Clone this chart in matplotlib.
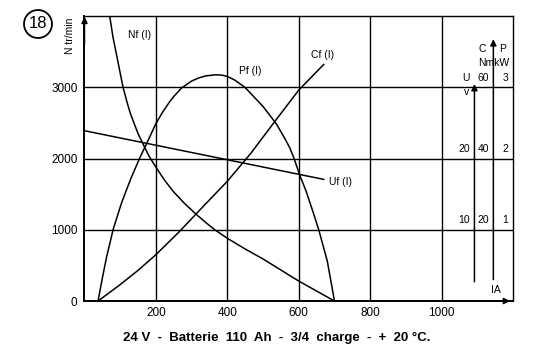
import numpy as np
import matplotlib
matplotlib.use("Agg")
from matplotlib import pyplot as plt
from matplotlib.patches import Ellipse

plt.rcParams['font.family'] = ['Liberation Sans', 'DejaVu Sans']

# ---- curves (I in A, N in tr/min) ----
nf_i = [71, 80, 90, 100, 108, 118, 128, 140, 150, 163, 180, 200, 225, 250, 280, 316, 340, 365, 400, 450, 500, 600, 650, 700]
nf_n = [3986, 3700, 3450, 3200, 3000, 2811, 2640, 2480, 2350, 2214, 2040, 1878, 1690, 1530, 1370, 1203, 1100, 1000, 880, 730, 590, 280, 140, 0]

pf_i = [38, 50, 62, 81, 104, 130, 155, 175, 200, 220, 239, 250, 272, 300, 320, 340, 368, 385, 400, 420, 449,
        470, 500, 520, 538, 560, 575, 587, 603, 620, 640, 656, 680, 700]
pf_n = [0, 320, 620, 1017, 1380, 1720, 2010, 2220, 2490, 2660, 2800, 2870, 2990, 3087, 3131, 3160, 3175, 3170, 3152, 3103, 3000,
        2890, 2730, 2600, 2480, 2290, 2150, 2000, 1762, 1550, 1250, 1000, 560, 0]

cf_i = [38, 100, 150, 200, 267, 333, 400, 467, 533, 600, 670]
cf_n = [0, 230, 430, 650, 980, 1330, 1680, 2080, 2520, 2960, 3320]

uf_i = [0, 670]
uf_n = [2390, 1707]

x_ticks = [200, 400, 600, 800, 1000]
y_ticks = [0, 1000, 2000, 3000]

# right hand scales (U in V, C in Nm, P in kW) at the N grid levels
u_lab = ['10', '20']
c_lab = ['20', '40', '60']
p_lab = ['1', '2', '3']

fig = plt.figure(figsize=(5.36, 3.62), dpi=100)
ax = fig.add_axes([0.1576, 0.1685, 0.7995, 0.7873])
ax.set_xlim(0, 1200)
ax.set_ylim(0, 4000)

ax.set_xticks(x_ticks)
ax.set_yticks(y_ticks)
ax.grid(True, color='black', lw=1.0)
ax.tick_params(length=0, labelsize=8.5)
ax.tick_params(axis='x', pad=4)
ax.tick_params(axis='y', pad=5)
for s in ['top', 'right']:
    ax.spines[s].set_linewidth(1.0)
for s in ['left', 'bottom']:
    ax.spines[s].set_linewidth(1.4)

lw = 1.1
ax.plot(nf_i, nf_n, color='black', lw=lw)
ax.plot(pf_i, pf_n, color='black', lw=lw)
ax.plot(cf_i, cf_n, color='black', lw=lw)
ax.plot(uf_i, uf_n, color='black', lw=lw)

fs = 7.5
ax.text(122, 3730, 'Nf (I)', fontsize=fs, va='center')
ax.text(432, 3230, 'Pf (I)', fontsize=fs, va='center')
ax.text(635, 3450, 'Cf (I)', fontsize=fs, va='center')
ax.text(685, 1670, 'Uf (I)', fontsize=fs, va='center')

# axis arrows
arr = dict(arrowstyle='-|>', color='black', lw=1.1, mutation_scale=9, shrinkA=0, shrinkB=0)
ax.annotate('', xy=(0, 3990), xytext=(0, 3600), arrowprops=arr, annotation_clip=False)
ax.annotate('', xy=(1192, 0), xytext=(1120, 0), arrowprops=arr, annotation_clip=False)
ax.annotate('', xy=(1092, 3045), xytext=(1092, 270), arrowprops=arr)
ax.annotate('', xy=(1145, 3674), xytext=(1145, 300), arrowprops=arr)

# right scales
ax.text(1069, 3133, 'U', fontsize=fs, ha='center', va='center')
ax.text(1069, 2927, 'v', fontsize=fs, ha='center', va='center')
ax.text(1115, 3534, 'C', fontsize=fs, ha='center', va='center')
ax.text(1172, 3534, 'P', fontsize=fs, ha='center', va='center')
ax.text(1147, 3347, 'NmkW', fontsize=fs, ha='center', va='center')
for k, yy in enumerate([1133, 2140]):
    ax.text(1064, yy, u_lab[k], fontsize=fs, ha='center', va='center')
for k, yy in enumerate([1133, 2140, 3133]):
    ax.text(1118, yy, c_lab[k], fontsize=fs, ha='center', va='center')
    ax.text(1178, yy, p_lab[k], fontsize=fs, ha='center', va='center')
ax.text(1139, 154, 'IA', fontsize=fs, ha='left', va='center')

fig.text(0.1306, 0.9006, 'N tr/min', rotation=90, fontsize=7.5, ha='center', va='center')
fig.add_artist(Ellipse((38 / 536, 1 - 24 / 362), 28 / 536, 28 / 362,
                       transform=fig.transFigure, fill=False, lw=1.3, color='black'))
fig.text(38 / 536, 1 - 24 / 362, '18', fontsize=12, ha='center', va='center')

fig.text(0.517, 0.0663, '24 V  -  Batterie  110  Ah  -  3/4  charge  -  +  20 \u00b0C.',
         fontsize=9.5, fontweight='bold', ha='center', va='center')

plt.savefig('out.png', dpi=100)
